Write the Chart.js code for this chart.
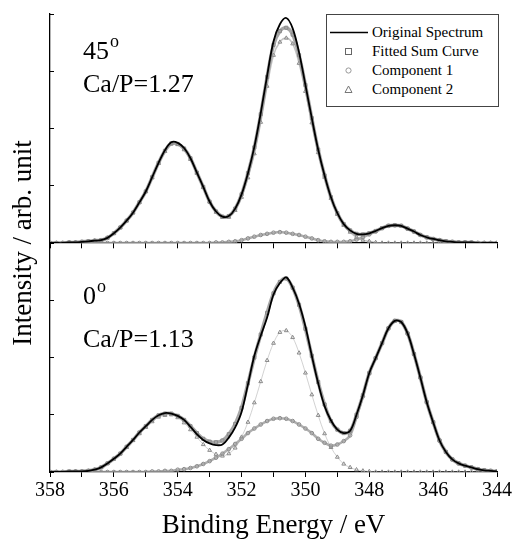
<!DOCTYPE html>
<html>
<head>
<meta charset="utf-8">
<script src="https://cdn.jsdelivr.net/npm/chart.js@4.4.0/dist/chart.umd.min.js"></script>
<style>
  body { margin: 0; background: #fff; }
  #wrap { position: relative; width: 514px; height: 540px; font-family: "Liberation Serif", "DejaVu Serif", serif; color: #000; }
  #chart { position: absolute; left: 0; top: 0; }
  .note { position: absolute; font-size: 26px; line-height: 26px; white-space: nowrap; }
  .note sup { font-size: 18px; line-height: 0; vertical-align: 0; position: relative; top: -12px; margin-left: 1px; }
  #ytitle { position: absolute; width: 320px; left: -138px; top: 229px; font-size: 27px; line-height: 28px; text-align: center; transform: rotate(-90deg); white-space: nowrap; }
  #legend { position: absolute; left: 326px; top: 14px; width: 171px; height: 91px; border: 1px solid #444; background: #fff; }
  #legend .row { position: absolute; left: 0; height: 19px; line-height: 19px; font-size: 15px; white-space: nowrap; }
  #legend .row svg { position: absolute; left: 3px; top: 0; }
  #legend .row span { position: absolute; left: 45px; }
</style>
</head>
<body>
<div id="wrap">
  <canvas id="chart" width="514" height="540"></canvas>
  <div id="ytitle">Intensity / arb. unit</div>
  <div class="note" style="left:83px; top:38px;">45<sup>o</sup></div>
  <div class="note" style="left:83px; top:71px;">Ca/P=1.27</div>
  <div class="note" style="left:83px; top:283px;">0<sup>o</sup></div>
  <div class="note" style="left:83px; top:326px;">Ca/P=1.13</div>
  <div id="legend">
    <div class="row" style="top:8px;"><svg width="40" height="19"><line x1="0" y1="9.5" x2="38" y2="9.5" stroke="#000" stroke-width="1.4"/></svg><span>Original Spectrum</span></div>
    <div class="row" style="top:27px;"><svg width="40" height="19"><rect x="15.5" y="6.5" width="6" height="6" fill="none" stroke="#666" stroke-width="1"/></svg><span>Fitted Sum Curve</span></div>
    <div class="row" style="top:46px;"><svg width="40" height="19"><circle cx="18.5" cy="9.5" r="2.6" fill="none" stroke="#999" stroke-width="1"/></svg><span>Component 1</span></div>
    <div class="row" style="top:65px;"><svg width="40" height="19"><polygon points="18.5,6 22,12.5 15,12.5" fill="none" stroke="#777" stroke-width="1"/></svg><span>Component 2</span></div>
  </div>
</div>
<script>
// binding energy grid (eV)
const energy = [
  358.0, 357.8, 357.6, 357.4, 357.2, 357.0, 356.8, 356.6, 356.4, 356.2,
  356.0, 355.8, 355.6, 355.4, 355.2, 355.0, 354.8, 354.6, 354.4, 354.2,
  354.0, 353.8, 353.6, 353.4, 353.2, 353.0, 352.8, 352.6, 352.4, 352.2,
  352.0, 351.8, 351.6, 351.4, 351.2, 351.0, 350.8, 350.6, 350.4, 350.2,
  350.0, 349.8, 349.6, 349.4, 349.2, 349.0, 348.8, 348.6, 348.4, 348.2,
  348.0, 347.8, 347.6, 347.4, 347.2, 347.0, 346.8, 346.6, 346.4, 346.2,
  346.0, 345.8, 345.6, 345.4, 345.2, 345.0, 344.8, 344.6, 344.4, 344.2,
  344.0
];

// 45 deg, Ca/P=1.27
const topOriginal = [
  0, 0, 0, 0.01, 0.01, 0.02, 0.03, 0.04, 0.05, 0.09,
  0.17, 0.27, 0.39, 0.53, 0.71, 0.90, 1.15, 1.40, 1.62, 1.76,
  1.75, 1.66, 1.48, 1.23, 0.98, 0.72, 0.55, 0.46, 0.47, 0.60,
  0.85, 1.22, 1.68, 2.27, 2.92, 3.52, 3.82, 3.93, 3.75, 3.33,
  2.76, 2.18, 1.63, 1.18, 0.80, 0.52, 0.33, 0.22, 0.16, 0.15,
  0.17, 0.21, 0.26, 0.30, 0.31, 0.30, 0.25, 0.20, 0.14, 0.10,
  0.07, 0.05, 0.03, 0.02, 0.01, 0.01, 0.01, 0, 0, 0,
  0
];
const topFitted = [
  0, 0, 0, 0.01, 0.01, 0.02, 0.03, 0.04, 0.05, 0.09,
  0.17, 0.27, 0.39, 0.53, 0.71, 0.90, 1.15, 1.40, 1.61, 1.74,
  1.73, 1.65, 1.48, 1.23, 0.98, 0.72, 0.55, 0.46, 0.47, 0.60,
  0.85, 1.22, 1.67, 2.25, 2.90, 3.46, 3.70, 3.76, 3.64, 3.28,
  2.76, 2.18, 1.63, 1.18, 0.80, 0.52, 0.33, 0.22, 0.16, 0.15,
  0.17, 0.21, 0.26, 0.30, 0.31, 0.30, 0.25, 0.20, 0.14, 0.10,
  0.07, 0.05, 0.03, 0.02, 0.01, 0.01, 0.01, 0, 0, 0,
  0
];
const topComp1 = [
  0, 0, 0, 0, 0, 0, 0, 0, 0, 0,
  0, 0, 0, 0, 0, 0, 0, 0, 0, 0,
  0, 0, 0, 0, 0, 0, 0.01, 0.01, 0.02, 0.03,
  0.05, 0.08, 0.11, 0.14, 0.16, 0.18, 0.19, 0.18, 0.16, 0.14,
  0.11, 0.08, 0.05, 0.03, 0.02, 0.02, 0.02, 0.03, 0.06, 0.10,
  0.15, 0.20, 0.26, 0.30, 0.31, 0.30, 0.25, 0.20, 0.14, 0.10,
  0.07, 0.05, 0.03, 0.02, 0.01, 0.01, 0, 0, 0, 0,
  0
];
const topComp2 = [
  0, 0, 0, 0.01, 0.01, 0.02, 0.03, 0.04, 0.05, 0.09,
  0.17, 0.27, 0.39, 0.53, 0.71, 0.90, 1.14, 1.39, 1.60, 1.73,
  1.72, 1.63, 1.46, 1.22, 0.97, 0.72, 0.54, 0.45, 0.45, 0.57,
  0.80, 1.14, 1.56, 2.11, 2.74, 3.28, 3.51, 3.58, 3.48, 3.14,
  2.65, 2.10, 1.58, 1.15, 0.78, 0.50, 0.31, 0.19, 0.10, 0.05,
  0.03, 0.01, 0, 0, 0, 0, 0, 0, 0, 0,
  0, 0, 0, 0, 0, 0, 0, 0, 0, 0,
  0
];

// 0 deg, Ca/P=1.13
const bottomOriginal = [
  0, 0, 0, 0.01, 0.01, 0.01, 0.02, 0.04, 0.08, 0.15,
  0.23, 0.32, 0.44, 0.56, 0.69, 0.80, 0.91, 0.99, 1.03, 1.02,
  0.98, 0.91, 0.79, 0.66, 0.56, 0.50, 0.47, 0.48, 0.60, 0.78,
  1.05, 1.53, 2.03, 2.38, 2.70, 3.10, 3.30, 3.40, 3.22, 2.94,
  2.54, 2.03, 1.55, 1.15, 0.90, 0.74, 0.68, 0.72, 1.00, 1.34,
  1.73, 1.99, 2.25, 2.51, 2.64, 2.62, 2.42, 2.06, 1.65, 1.22,
  0.87, 0.55, 0.35, 0.22, 0.15, 0.11, 0.08, 0.05, 0.03, 0.02,
  0.01
];
const bottomFitted = [
  0, 0, 0, 0.01, 0.01, 0.01, 0.02, 0.04, 0.08, 0.15,
  0.23, 0.32, 0.44, 0.56, 0.69, 0.80, 0.91, 0.99, 1.02, 1.02,
  0.98, 0.91, 0.80, 0.68, 0.58, 0.53, 0.52, 0.55, 0.66, 0.84,
  1.12, 1.55, 2.00, 2.40, 2.78, 3.12, 3.32, 3.38, 3.22, 2.92,
  2.50, 2.03, 1.57, 1.18, 0.89, 0.74, 0.68, 0.72, 1.00, 1.34,
  1.73, 1.99, 2.25, 2.51, 2.64, 2.62, 2.42, 2.06, 1.65, 1.22,
  0.87, 0.55, 0.35, 0.22, 0.15, 0.11, 0.08, 0.05, 0.03, 0.02,
  0.01
];
const bottomComp1 = [
  0, 0, 0, 0, 0, 0, 0, 0, 0, 0,
  0, 0, 0, 0, 0, 0, 0.01, 0.01, 0.02, 0.02,
  0.04, 0.05, 0.07, 0.10, 0.14, 0.19, 0.25, 0.32, 0.40, 0.49,
  0.58, 0.68, 0.76, 0.83, 0.89, 0.93, 0.94, 0.93, 0.89, 0.83,
  0.76, 0.68, 0.58, 0.51, 0.46, 0.48, 0.54, 0.64, 0.96, 1.32,
  1.72, 1.99, 2.25, 2.51, 2.64, 2.62, 2.42, 2.06, 1.65, 1.22,
  0.87, 0.55, 0.35, 0.22, 0.15, 0.11, 0.08, 0.05, 0.03, 0.02,
  0.01
];
const bottomComp2 = [
  0, 0, 0, 0, 0.01, 0.01, 0.02, 0.04, 0.08, 0.15,
  0.23, 0.32, 0.43, 0.55, 0.67, 0.78, 0.88, 0.96, 0.99, 1.00,
  0.95, 0.86, 0.74, 0.61, 0.48, 0.38, 0.31, 0.28, 0.32, 0.42,
  0.61, 0.87, 1.21, 1.58, 1.95, 2.25, 2.44, 2.47, 2.35, 2.08,
  1.73, 1.35, 0.99, 0.67, 0.43, 0.26, 0.14, 0.08, 0.04, 0.02,
  0.01, 0, 0, 0, 0, 0, 0, 0, 0, 0,
  0, 0, 0, 0, 0, 0, 0, 0, 0, 0,
  0
];

const xTickLabels = [358, 356, 354, 352, 350, 348, 346, 344];
const serif = "'Liberation Serif', 'DejaVu Serif', serif";

const toPoints = (values) => energy.map((e, i) => ({ x: e, y: values[i] }));

// black measured line
const originalSet = (values, axis) => ({
  data: toPoints(values),
  yAxisID: axis,
  borderColor: "#000",
  borderWidth: 1.8,
  pointRadius: 0,
  tension: 0.35,
  order: 0,
});

// grey hollow markers on a grey line
const markerSet = (values, axis, style, order, lineColor, lineWidth, radius) => ({
  data: toPoints(values),
  yAxisID: axis,
  borderColor: lineColor,
  borderWidth: lineWidth,
  pointStyle: style,
  pointRadius: radius,
  pointBorderColor: "#8a8a8a",
  pointBackgroundColor: "rgba(255,255,255,0)",
  pointBorderWidth: 1,
  tension: 0.35,
  order: order,
});

const yAxis = {
  type: "linear",
  position: "left",
  stack: "panels",
  stackWeight: 1,
  min: 0,
  max: 4,
  ticks: { display: false, stepSize: 1 },
  grid: { drawOnChartArea: false, tickLength: -4, color: "#000" },
  border: { color: "#000", width: 1.3 },
  afterFit: (scale) => { scale.width = 50; },
};

const ctx = document.getElementById("chart");

new Chart(ctx, {
  type: "line",
  data: {
    datasets: [
      originalSet(topOriginal, "yTop"),
      markerSet(topFitted, "yTop", "rect", 1, "rgba(150,150,150,0.85)", 3.5, 2.2),
      markerSet(topComp1, "yTop", "circle", 2, "rgba(160,160,160,0.85)", 2.5, 1.8),
      markerSet(topComp2, "yTop", "triangle", 3, "rgba(170,170,170,0.7)", 1.5, 2.2),
      originalSet(bottomOriginal, "yBottom"),
      markerSet(bottomFitted, "yBottom", "rect", 1, "rgba(150,150,150,0.85)", 3.5, 2.2),
      markerSet(bottomComp1, "yBottom", "circle", 2, "rgba(160,160,160,0.85)", 2.5, 1.8),
      markerSet(bottomComp2, "yBottom", "triangle", 3, "rgba(180,180,180,0.6)", 1, 2.2),
    ],
  },
  options: {
    responsive: false,
    animation: false,
    layout: { padding: { top: 14, right: 16, left: 0, bottom: 0 } },
    plugins: { legend: { display: false }, tooltip: { enabled: false } },
    scales: {
      x: {
        type: "linear",
        position: "bottom",
        reverse: true,
        min: 344,
        max: 358,
        ticks: {
          stepSize: 1,
          autoSkip: false,
          maxRotation: 0,
          padding: 2,
          color: "#000",
          font: { family: serif, size: 20 },
          callback: (v) => (xTickLabels.includes(v) ? String(v) : ""),
        },
        grid: { drawOnChartArea: false, tickLength: 5, color: "#000" },
        border: { color: "#000", width: 1.3 },
        title: {
          display: true,
          text: "Binding Energy / eV",
          color: "#000",
          padding: 0,
          font: { family: serif, size: 27, lineHeight: 1.05 },
        },
        afterFit: (scale) => { scale.height = 68; },
      },
      xTop: {
        type: "linear",
        axis: "x",
        position: { yBottom: 4 },
        reverse: true,
        min: 344,
        max: 358,
        ticks: { display: false, stepSize: 1, autoSkip: false },
        grid: { drawOnChartArea: false, tickLength: 5, color: "#000" },
        border: { color: "#000", width: 1.3 },
      },
      yBottom: { ...yAxis },
      yTop: { ...yAxis },
    },
  },
});
</script>
</body>
</html>
